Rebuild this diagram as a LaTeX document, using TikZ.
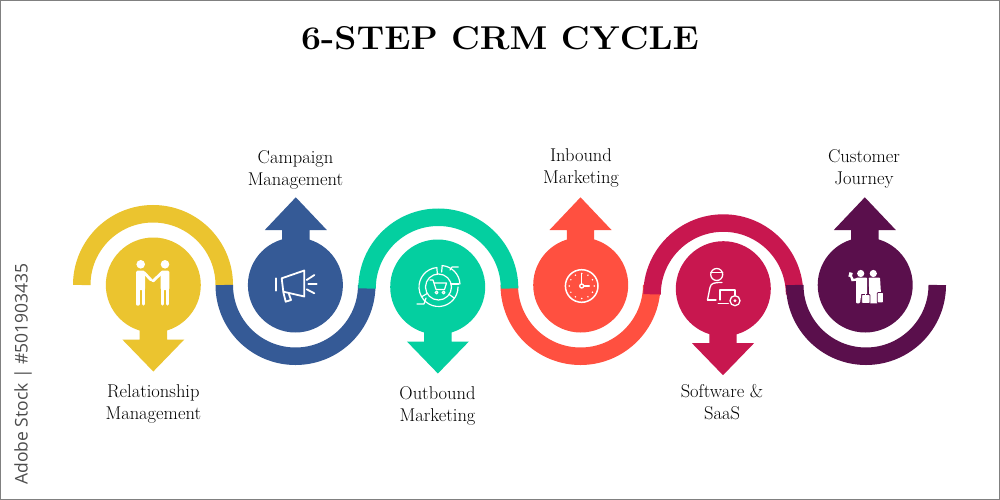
\documentclass[tikz,border=0pt]{standalone}
\usepackage{fontspec}
\usepackage{graphicx}
\usetikzlibrary{calc}
\newfontfamily\stockfont{Open Sans}
\definecolor{cyellow}{HTML}{EBC42F}
\definecolor{cblue}{HTML}{355A96}
\definecolor{cgreen}{HTML}{04CFA0}
\definecolor{corange}{HTML}{FF5040}
\definecolor{ccrimson}{HTML}{C8174F}
\definecolor{cpurple}{HTML}{5A0F4C}
\tikzset{
  disc/.style={circle,minimum size=95pt,inner sep=0pt,fill=#1},
  band/.style={line width=17.5pt,draw=#1},
  label/.style={align=center,font=\fontsize{18.5}{22}\selectfont,text=black,inner sep=0pt},
  iconline/.style={draw=white,line width=1.2pt,line cap=round,line join=round},
  iconfat/.style={draw=white,line width=3.4pt,line cap=round,line join=round},
  pics/uparrow/.style={code={\fill[#1] (-13.7,-40) -- (-13.7,-55) -- (-31,-55) -- (0,-87.7) -- (31,-55) -- (13.7,-55) -- (13.7,-40) -- cycle;}},
  pics/downarrow/.style={code={\fill[#1] (-13.7,40) -- (-13.7,54.5) -- (-31,54.5) -- (0,86.5) -- (31,54.5) -- (13.7,54.5) -- (13.7,40) -- cycle;}},
}
\begin{document}
\begin{tikzpicture}[x=1pt,y=-1pt]
\useasboundingbox (0,0) rectangle (1000,500);
\fill[white] (0,0) rectangle (1000,500);
\draw[gray,line width=1.2pt] (0.6,0.6) rectangle (999.4,499.4);

% bands (paint order sets the joins)
\draw[band=cyellow] (81.75,285) arc[start angle=180,end angle=0,radius=71.25pt];
\draw[band=cblue] (224.25,285) arc[start angle=180,end angle=360,radius=71.25pt];
\draw[band=corange] (509.25,285) arc[start angle=180,end angle=360,radius=71.25pt];
\draw[band=cgreen] (367.05,288.5) arc[start angle=180,end angle=0,radius=71.25pt];
\draw[band=ccrimson] (652.05,294.3) arc[start angle=180,end angle=0,radius=71.25pt];
\draw[band=cpurple] (794.75,285) arc[start angle=180,end angle=360,radius=71.25pt];

% arrows and discs
\pic at (153.3,285) {downarrow=cyellow};
\pic at (295.8,285) {uparrow=cblue};
\pic at (437.9,287) {downarrow=cgreen};
\pic at (580.5,285) {uparrow=corange};
\pic at (723,288.7) {downarrow=ccrimson};
\pic at (864.8,285) {uparrow=cpurple};
\node[disc=cyellow] (d1) at (153.3,285) {};
\node[disc=cblue] (d2) at (295.4,285) {};
\node[disc=cgreen] (d3) at (437.7,287) {};
\node[disc=corange] (d4) at (580.7,285) {};
\node[disc=ccrimson] (d5) at (723.3,288.7) {};
\node[disc=cpurple] (d6) at (865.2,285) {};

% handshake icon
\fill[white] (140.7,264.3) circle[radius=4.3pt] (165,264.3) circle[radius=4.3pt];
\fill[white,rounded corners=1.5pt] (136,270.5) -- (145,270.5) -- (145,290) -- (136,290) -- cycle;
\fill[white,rounded corners=1.5pt] (160.7,270.5) -- (169.3,270.5) -- (169.3,290) -- (160.7,290) -- cycle;
\draw[iconfat] (137.8,289) -- (137.8,304) (143.2,289) -- (143.2,304);
\draw[iconfat] (162.5,289) -- (162.5,304) (167.5,289) -- (167.5,304);
\draw[white,line width=2.8pt,line cap=round] (144,272.5) -- (151,280) (162,272.5) -- (153,281);

% megaphone icon
\draw[iconline,line width=1.8pt] (281.7,278.3) -- (304.3,270.5) -- (304.3,296.5) -- (283.3,291.7) -- cycle;
\draw[iconline,line width=1.8pt] (275.7,278.3) -- (275.7,290.7);
\draw[iconline,line width=1.8pt] (283.3,292) -- (285.7,301.7) -- (291,300) -- (289,294.3);
\draw[iconline,line width=1.8pt] (306.7,280) -- (314.3,275) (308.3,284) -- (316.7,284) (306.7,289.3) -- (314.3,293.3);

% cycle with cart icon
\coordinate (cc) at (438.5,287);
\draw[iconline] (cc) ++(95:19.5pt) arc[start angle=95,end angle=360,radius=19.5pt];
\draw[iconline] ($(cc)+(2,-2)$) ++(3:19.5pt) arc[start angle=3,end angle=85,radius=19.5pt];
\draw[iconline] (cc) circle[radius=13pt];
\draw[iconline] (cc) ++(95:13pt) -- ++(95:6.5pt);
\draw[iconline] (cc) ++(210:13pt) -- ++(210:6.5pt);
\draw[iconline] (cc) ++(-35:13pt) -- ++(-35:6.5pt);
\draw[iconline] ($(cc)+(2,-2)$) ++(85:13pt) -- ++(85:6.5pt);
\draw[iconline] (450,270) -- (452,267) -- (458.3,267);
\draw[iconline] (451,284) -- (459,284);
\draw[iconline] (426,298) -- (424,304) -- (417,304);
\draw[iconline] (430,280) -- (433,280) -- (436,289.5) -- (444.5,289.5) -- (446.5,283) -- (434,283);
\draw[iconline] (436.5,292.5) circle[radius=1.4pt] (443.5,292.5) circle[radius=1.4pt];

% clock icon
\draw[iconline,line width=1.5pt] (581.7,286) circle[radius=16.3pt];
\foreach \a in {0,30,...,330} \fill[white] (581.7,286) ++(\a:12.5pt) circle[radius=0.8pt];
\draw[iconline,line width=1.5pt] (581.7,274) -- (581.7,284) (583.7,286) -- (589.3,286);
\draw[iconline,line width=1.3pt] (581.7,286) circle[radius=2pt];

% agent icon
\draw[iconline,line width=1.3pt] (716.7,274.5) circle[radius=6pt];
\draw[iconline,line width=1.3pt] (710.7,272.5) -- (722.7,272.5);
\draw[iconline,line width=1.3pt] (707.5,300) -- (710,287.5) .. controls (711,283) and (714,282.5) .. (722,282.5);
\draw[iconline,line width=1.3pt] (707.5,300) -- (716,300);
\draw[iconline,line width=1.3pt] (720,300) -- (720,290) -- (735,290) -- (735,295);
\draw[iconline,line width=1.3pt] (718.3,303.5) -- (728.3,303.5);
\draw[iconline,line width=1.3pt] (735,300.7) circle[radius=5pt];
\fill[white] (735,300.7) circle[radius=1.6pt];

% travellers icon
\fill[white] (860.7,273.5) circle[radius=3.6pt] (873.3,273.5) circle[radius=3.6pt];
\fill[white,rounded corners=1pt] (856,277.5) -- (867,277.5) -- (867,303.3) -- (863,303.3) -- (861.5,292) -- (860,303.3) -- (856,303.3) -- cycle;
\fill[white,rounded corners=1pt] (868.7,277.5) -- (880,277.5) -- (881,294) -- (878.5,294) -- (878,303.3) -- (869.5,303.3) -- cycle;
\draw[white,line width=2.4pt,line cap=round] (857,279.5) -- (852.5,280) -- (851.5,277);
\fill[white,rotate around={-15:(850.5,275)}] (848.8,272.5) rectangle (852.2,277);
\fill[white,draw=cpurple,line width=0.8pt,rounded corners=0.8pt] (861.7,294.5) rectangle (870,303.5);
\draw[white,line width=0.9pt] (865.8,294.5) -- (865.8,290);
\fill[white,draw=cpurple,line width=0.8pt,rounded corners=0.8pt] (877.3,292.5) rectangle (883.4,302.8);

% texts
\node[font=\fontsize{33}{36}\selectfont\bfseries,inner sep=0pt,anchor=center] (title) at (500,38.5) {\scalebox{1.075}[1]{6-STEP CRM CYCLE}};
\node[label] (t1) at (153.3,404) {Relationship\\Management};
\node[label] (t2) at (295.5,169.5) {Campaign\\Management};
\node[label] (t3) at (437.5,405.5) {Outbound\\Marketing};
\node[label] (t4) at (581,168) {Inbound\\Marketing};
\node[label] (t5) at (722,402.5) {Software \&\\SaaS};
\node[label] (t6) at (864,169) {Customer\\Journey};
\node[rotate=90,inner sep=0pt,text=black!70,font=\fontsize{17.5}{20}\selectfont\stockfont] (stock) at (23,374) {Adobe Stock | \#501903435};
\end{tikzpicture}
\end{document}
